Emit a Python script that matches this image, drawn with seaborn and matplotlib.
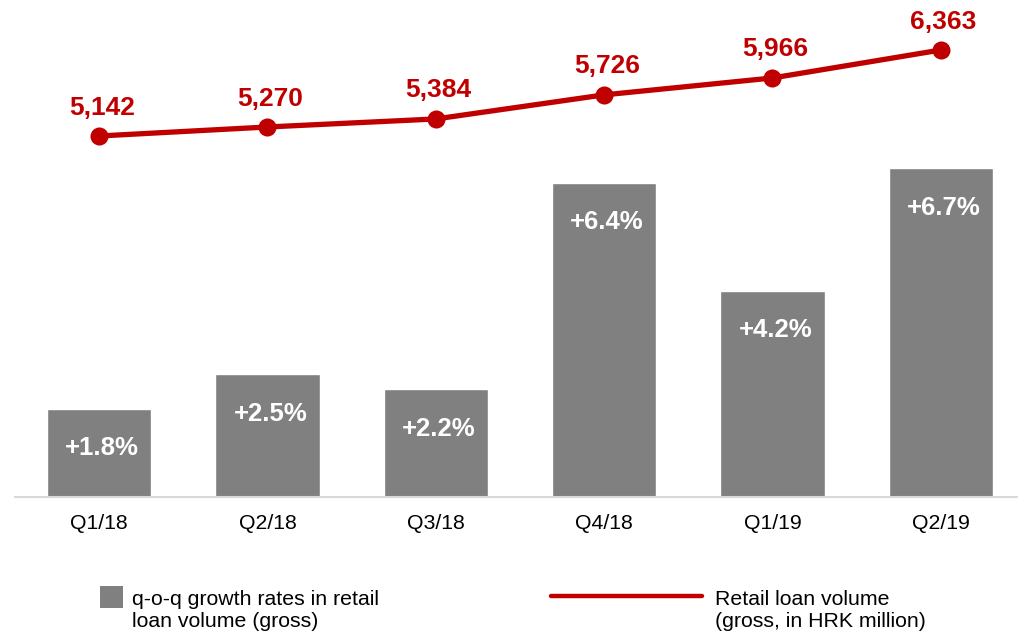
import numpy as np
import pandas as pd
import matplotlib
matplotlib.use("Agg")
import matplotlib.pyplot as plt
from matplotlib.patches import Rectangle
from matplotlib.lines import Line2D
import seaborn as sns

# Quarterly retail loan data
quarters = ["Q1/18", "Q2/18", "Q3/18", "Q4/18", "Q1/19", "Q2/19"]
growth_pct = [1.8, 2.5, 2.2, 6.4, 4.2, 6.7]            # q-o-q growth, %
loan_volume = [5142, 5270, 5384, 5726, 5966, 6363]     # HRK million

bar_label = "q-o-q growth rates in retail\nloan volume (gross)"
line_label = "Retail loan volume\n(gross, in HRK million)"

GREY = "#808080"
RED = "#C00000"
AXIS_GREY = "#D9D9D9"

sns.set_theme(style="white")
plt.rcParams["font.family"] = ["Liberation Sans", "DejaVu Sans"]

fig = plt.figure(figsize=(10.18, 6.34), dpi=100)
ax = fig.add_axes([0.01473, 0.2161, 0.99214, 0.7839])

df = pd.DataFrame({"quarter": quarters, "growth": growth_pct, "volume": loan_volume})

# Growth-rate bars
sns.barplot(data=df, x="quarter", y="growth", color=GREY, saturation=1,
            width=0.62, ax=ax)
ax.set_xlim(-0.5, len(quarters) - 0.5)
ax.set_ylim(0, 10.12)
ax.set_xlabel("")
ax.set_ylabel("")
ax.set_yticks([])
for s in ["top", "right", "left"]:
    ax.spines[s].set_visible(False)
ax.spines["bottom"].set_color(AXIS_GREY)
ax.spines["bottom"].set_linewidth(1.5)
ax.tick_params(axis="x", which="major", length=0, labelsize=15.3,
               pad=12.5, labelcolor="#000000")
ax.set_xticks(np.arange(-0.5, len(quarters)), minor=True)
ax.tick_params(axis="x", which="minor", length=5, width=1.5, color=AXIS_GREY)

for i, v in enumerate(growth_pct):
    ax.annotate(f"+{v:.1f}%", xy=(i, v), xytext=(2, -28.5), textcoords="offset points",
                ha="center", va="center", color="white", fontsize=18.5,
                fontweight="bold")

# Loan volume line on a secondary scale
ax2 = ax.twinx()
sns.lineplot(x=np.arange(len(quarters)), y=loan_volume, ax=ax2, color=RED,
             linewidth=3.8, marker="o", markersize=13, markeredgewidth=0,
             markerfacecolor=RED)
ax2.set_ylim(16, 7073)
ax2.set_yticks([])
ax2.set_ylabel("")
for s in ax2.spines.values():
    s.set_visible(False)

for i, v in enumerate(loan_volume):
    ax2.annotate(f"{v:,}", xy=(i, v), xytext=(2, 20.5), textcoords="offset points",
                 ha="center", va="center", color=RED, fontsize=19,
                 fontweight="bold")

# Legend, drawn below the chart
W, H = 1018, 634
def fx(px):
    return px / W
def fy(py):
    return 1 - py / H

fig.add_artist(Rectangle((fx(100), fy(608)), fx(123) - fx(100), fy(586) - fy(608),
                         transform=fig.transFigure, facecolor=GREY, edgecolor="none"))
fig.text(fx(132), fy(590), bar_label, ha="left", va="top", fontsize=15.3,
         color="#000000", linespacing=1.23)

fig.add_artist(Line2D([fx(551), fx(702)], [fy(596), fy(596)],
                      transform=fig.transFigure, color=RED, linewidth=3.2))
fig.text(fx(715), fy(590), line_label, ha="left", va="top", fontsize=15.3,
         color="#000000", linespacing=1.23)

fig.savefig("out.png", dpi=100, facecolor="white")
